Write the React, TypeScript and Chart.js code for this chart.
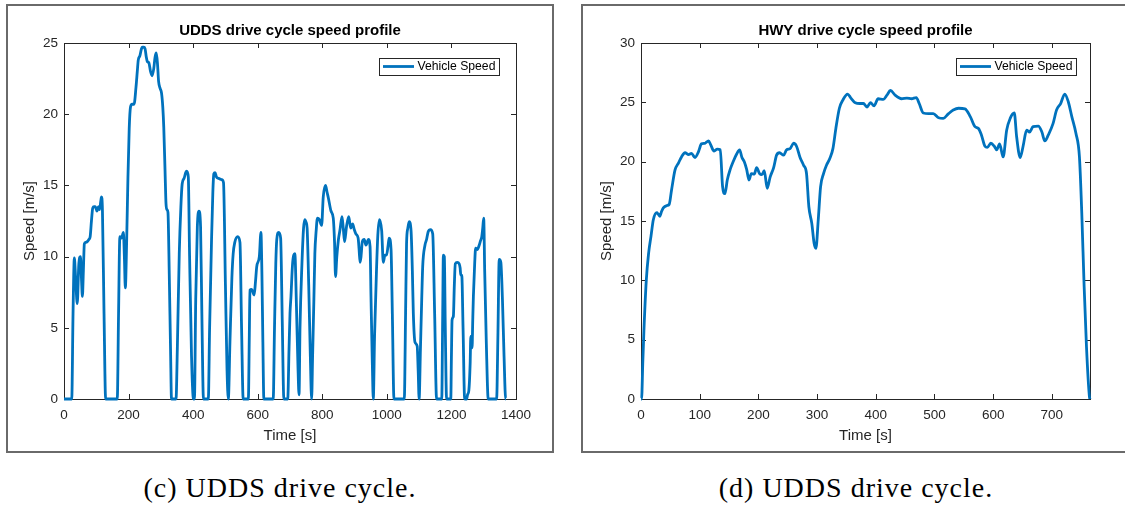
import React, { useEffect, useRef } from "react";
import { Chart, registerables } from "chart.js";

Chart.register(...registerables);

// ---------- Data ----------
const uddsTime = [
  0, 20, 24, 28, 32, 36, 41, 46, 51, 54, 57, 60, 63, 67, 72, 77, 81, 85, 89, 93, 97, 102, 107, 110, 114, 116, 119, 124, 129,
  165, 169, 173, 178, 184, 187, 190, 194, 198, 202, 206, 211, 217, 223, 227, 230, 235, 240, 243, 247, 251, 255, 258, 263, 268,
  273, 278, 282, 286, 290, 293, 298, 302, 306, 309, 313, 316, 319, 322, 326, 330, 333,
  347, 351, 357, 362, 366, 372, 377, 380, 385, 389, 395, 401,
  404, 408, 413, 418, 423, 427, 432,
  447, 451, 457, 461, 464, 468, 472, 478, 488, 494, 500, 505, 509,
  514, 520, 524, 529, 538, 545, 550, 555,
  571, 574, 576, 581, 589, 593, 597, 605, 610, 613, 616, 619,
  648, 652, 656, 659, 665, 671, 676, 681,
  693, 697, 700, 703, 708, 715, 720, 725, 728, 731, 737, 742, 746, 750, 753, 758, 763, 767,
  770, 774, 777, 781, 785, 791, 798, 803, 810, 815, 819, 827, 834, 838, 841, 845, 850, 855, 861, 865, 869, 875, 882, 888,
  894, 899, 904, 911, 914, 917, 920, 924, 930, 935, 943, 948, 951, 955, 958,
  962, 968, 972, 977, 984, 989, 994, 999, 1004, 1007, 1013, 1017, 1022,
  1054, 1058, 1061, 1065, 1069, 1075, 1079, 1082, 1087, 1094, 1097, 1100,
  1104, 1108, 1111, 1118, 1123, 1128, 1135, 1142, 1148, 1154,
  1170, 1173, 1175, 1178, 1181, 1185,
  1198, 1200, 1202, 1206, 1209, 1212, 1218, 1224, 1227, 1229, 1232, 1236, 1241,
  1247, 1250, 1254, 1258, 1260, 1262, 1264, 1266, 1268, 1272, 1275, 1280, 1286, 1290, 1294, 1297, 1300, 1303, 1308, 1314,
  1340, 1344, 1348, 1353, 1358, 1363, 1368, 1369,
];
const uddsSpeed = [
  0, 0, 0, 6, 9.9, 8.5, 6.7, 9.5, 10.0, 8.5, 7.2, 9, 10.9, 11.0, 11.05, 11.2, 11.4, 12.5, 13.4, 13.5, 13.5, 13.2, 13.5, 13.3, 13.9, 14.2, 13.3, 6, 0,
  0, 6, 11.4, 11.3, 11.7, 10.0, 7.8, 11, 15.5, 19.0, 20.5, 20.7, 20.7, 21.9, 23.0, 23.8, 24.1, 24.6, 24.7, 24.7, 24.6, 24.0, 23.7, 23.6, 23.0,
  22.7, 23.2, 24.0, 24.3, 23.4, 22.3, 21.8, 21.5, 20.5, 19.1, 16.0, 13.7, 13.3, 13.1, 8.8, 3.5, 0,
  0, 3.5, 10.2, 13.5, 15.1, 15.5, 15.9, 16.0, 15.6, 10, 3, 0,
  0, 7, 12.1, 13.2, 12.1, 6, 0,
  0, 5, 11.2, 14.5, 15.8, 15.9, 15.6, 15.5, 15.4, 15.2, 8, 2, 0,
  4, 8.5, 10.2, 11.0, 11.4, 11.0, 5, 0,
  0, 4.5, 7.65, 7.7, 7.3, 8.2, 9.3, 10.0, 11.7, 8.8, 4, 0,
  0, 5, 9.5, 11.2, 11.7, 11.3, 5.5, 0,
  0, 3.5, 6, 7.2, 9.5, 10.2, 6.5, 2, 0.3, 5, 9.5, 12.0, 12.6, 12.4, 12.0, 8, 3, 0,
  3, 7, 10.2, 11.8, 12.7, 12.6, 12.2, 14.2, 15.0, 14.5, 14.1, 13.2, 12.7, 11, 8.6, 10, 11.2, 11.9, 12.8, 12, 11.05, 12.1, 12.8, 12.0,
  12.3, 11.9, 11.6, 11.3, 10.5, 9.6, 10, 11.05, 11.2, 10.8, 11.2, 10.7, 7, 2.5, 0,
  4.5, 9.1, 11.5, 12.6, 11.8, 9.6, 10.1, 10.1, 10.8, 11.3, 10.5, 6, 0,
  0, 6, 10.9, 12.0, 12.45, 11.8, 9, 6.0, 4.0, 3.7, 2, 0,
  3.5, 7, 9.3, 10.8, 11.2, 11.75, 11.9, 11.6, 6, 0,
  0, 6, 10.1, 10.0, 5, 0,
  0, 3, 5.55, 5.8, 8, 9.5, 9.6, 9.5, 9.2, 8.7, 8.7, 5, 0,
  0, 0.3, 0.6, 2.5, 4.4, 3.6, 3.6, 5.5, 7.2, 9.5, 10.6, 10.5, 10.8, 11.1, 11.4, 12, 12.7, 9, 4, 0,
  0, 4.5, 9.8, 9.6, 7, 3, 0, 0,
];

const hwyTime = [
  0, 1, 3, 5, 9, 13, 17, 21, 27, 29, 32, 35, 38, 44, 48, 52, 58, 64, 69, 75, 81, 86, 92, 98, 103, 109, 115, 119, 124, 130,
  135, 139, 143, 147, 152, 157, 163, 168, 172, 176, 180, 184, 188, 193, 197, 202, 206, 210, 215, 220, 226, 231, 236, 243,
  248, 254, 260, 265, 271, 277, 282, 286, 291, 295, 298, 302, 306, 311, 316, 322, 327, 332, 338, 344, 352, 357, 365, 373,
  379, 385, 391, 397, 404, 413, 419, 425, 433, 444, 453, 461, 469, 474, 481, 490, 498, 507, 515, 524, 532, 541, 552, 561,
  569, 575, 580, 586, 590, 596, 602, 606, 611, 617, 623, 629, 636, 640, 646, 651, 657, 662, 668, 677, 683, 688, 694, 702,
  708, 715, 722, 728, 734, 741, 747, 751, 755, 759, 764, 765,
];
const hwySpeed = [
  0, 0, 3, 5.8, 10.0, 12.3, 13.7, 15.1, 15.7, 15.6, 15.4, 15.8, 16.1, 16.3, 16.4, 17.6, 19.3, 19.9, 20.4, 20.75, 20.6, 20.7, 20.35, 20.85, 21.5, 21.55, 21.75, 21.4, 20.9, 21.05,
  21.0, 17.9, 17.3, 18.45, 19.35, 20.0, 20.65, 21.0, 20.35, 20.0, 19.35, 18.45, 19.0, 18.95, 19.5, 19.0, 18.9, 19.25, 17.75, 18.7, 19.5, 20.55, 20.75, 20.55,
  21.0, 21.1, 21.55, 21.3, 20.35, 19.7, 19.0, 16.2, 14.8, 13.1, 12.7, 15.1, 17.9, 19.0, 19.7, 20.3, 21.1, 22.8, 24.5, 25.2, 25.7, 25.4, 24.97, 24.9,
  24.9, 24.6, 24.97, 24.7, 25.3, 25.25, 25.6, 26.0, 25.6, 25.3, 25.35, 25.3, 25.4, 24.9, 24.1, 24.05, 24.05, 23.7, 23.65, 24.05, 24.35, 24.5, 24.45, 23.8,
  22.95, 22.8, 22.25, 21.3, 21.2, 21.55, 21.3, 21.0, 21.5, 20.4, 22.65, 23.65, 24.1, 22.1, 20.35, 21.3, 22.65, 22.5, 22.95, 23.0, 22.5, 21.75, 22.25, 23.2,
  24.35, 24.9, 25.7, 25.05, 23.8, 22.4, 20.4, 15.65, 9.5, 4.4, 0.2, 0,
];

const uddsXTicks = [0, 200, 400, 600, 800, 1000, 1200, 1400];
const uddsYTicks = [0, 5, 10, 15, 20, 25];
const hwyXTicks = [0, 100, 200, 300, 400, 500, 600, 700];
const hwyYTicks = [0, 5, 10, 15, 20, 25, 30];

const BLUE = "#0072BD";
const TXT = "#262626";
const SANS = "'Liberation Sans', Arial, Helvetica, sans-serif";

type PanelProps = {
  time: number[];
  speed: number[];
  xMax: number;
  yMax: number;
  xTicks: number[];
  yTicks: number[];
  title: string;
  left: number;
  top: number;
  width: number;
  height: number;
  yAxisWidth: number;
  padRight: number;
  legendGap: number;
};

function SpeedPanel(p: PanelProps) {
  const ref = useRef<HTMLCanvasElement | null>(null);
  useEffect(() => {
    if (!ref.current) return;
    const frame = {
      id: "matlabFrame",
      beforeDatasetsDraw(chart: any) {
        const { ctx, chartArea: a, scales } = chart;
        ctx.save();
        ctx.strokeStyle = TXT;
        ctx.lineWidth = 1;
        ctx.strokeRect(Math.round(a.left) + 0.5, Math.round(a.top) + 0.5, Math.round(a.right - a.left), Math.round(a.bottom - a.top));
        const tl = 5;
        ctx.beginPath();
        for (const v of p.xTicks) {
          const x = Math.round(scales.x.getPixelForValue(v)) + 0.5;
          ctx.moveTo(x, a.bottom);
          ctx.lineTo(x, a.bottom - tl);
          ctx.moveTo(x, a.top);
          ctx.lineTo(x, a.top + tl);
        }
        for (const v of p.yTicks) {
          const y = Math.round(scales.y.getPixelForValue(v)) + 0.5;
          ctx.moveTo(a.left, y);
          ctx.lineTo(a.left + tl, y);
          ctx.moveTo(a.right, y);
          ctx.lineTo(a.right - tl, y);
        }
        ctx.stroke();
        ctx.restore();
      },
      afterDraw(chart: any) {
        const { ctx, chartArea: a } = chart;
        ctx.save();
        ctx.fillStyle = "#000";
        ctx.textAlign = "center";
        ctx.textBaseline = "middle";
        ctx.font = `bold 15px ${SANS}`;
        ctx.fillText(p.title, (a.left + a.right) / 2, a.top - 12);
        ctx.fillStyle = TXT;
        ctx.font = `15px ${SANS}`;
        ctx.fillText("Time [s]", (a.left + a.right) / 2, a.bottom + 37);
        ctx.save();
        ctx.translate(a.left - 34, (a.top + a.bottom) / 2);
        ctx.rotate(-Math.PI / 2);
        ctx.fillText("Speed [m/s]", 0, 0);
        ctx.restore();
        // legend
        const w = 120;
        const h = 17;
        const lx = Math.round(a.right - p.legendGap - w);
        const ly = Math.round(a.top + 15);
        ctx.fillStyle = "#fff";
        ctx.fillRect(lx, ly, w, h);
        ctx.strokeStyle = TXT;
        ctx.lineWidth = 1;
        ctx.strokeRect(lx + 0.5, ly + 0.5, w, h);
        ctx.strokeStyle = BLUE;
        ctx.lineWidth = 2.8;
        ctx.beginPath();
        ctx.moveTo(lx + 4, ly + 8.5);
        ctx.lineTo(lx + 35, ly + 8.5);
        ctx.stroke();
        ctx.fillStyle = "#000";
        ctx.textAlign = "left";
        ctx.font = `12.2px ${SANS}`;
        ctx.fillText("Vehicle Speed", lx + 38.5, ly + 9);
        ctx.restore();
      },
    };
    const chart = new Chart(ref.current, {
      type: "line",
      data: {
        datasets: [
          {
            label: "Vehicle Speed",
            data: p.time.map((t, i) => ({ x: t, y: p.speed[i] })),
            borderColor: BLUE,
            backgroundColor: BLUE,
            borderWidth: 2.8,
            pointRadius: 0,
            fill: false,
            cubicInterpolationMode: "monotone",
            clip: 4,
          } as any,
        ],
      },
      options: {
        responsive: false,
        animation: false,
        devicePixelRatio: 1,
        layout: { padding: { top: 37, right: p.padRight, left: 0, bottom: 0 } },
        plugins: {
          legend: { display: false },
          title: { display: false },
          tooltip: { enabled: false },
        },
        scales: {
          x: {
            type: "linear",
            min: 0,
            max: p.xMax,
            afterBuildTicks: (s: any) => {
              s.ticks = p.xTicks.map((v) => ({ value: v }));
            },
            afterFit: (s: any) => {
              s.height = 52;
            },
            grid: { display: false, drawTicks: false },
            border: { display: false },
            ticks: {
              padding: 8,
              color: TXT,
              font: { family: SANS, size: 13.5 },
              maxRotation: 0,
              autoSkip: false,
              callback: (v: any) => String(v),
            },
          },
          y: {
            type: "linear",
            min: 0,
            max: p.yMax,
            afterBuildTicks: (s: any) => {
              s.ticks = p.yTicks.map((v) => ({ value: v }));
            },
            afterFit: (s: any) => {
              s.width = p.yAxisWidth;
            },
            grid: { display: false, drawTicks: false },
            border: { display: false },
            ticks: {
              padding: 6,
              color: TXT,
              font: { family: SANS, size: 13.5 },
              autoSkip: false,
              callback: (v: any) => String(v),
            },
          },
        },
      },
      plugins: [frame as any],
    });
    return () => chart.destroy();
  }, []);
  return (
    <canvas
      ref={ref}
      width={p.width}
      height={p.height}
      style={{ position: "absolute", left: p.left, top: p.top, width: p.width, height: p.height }}
    />
  );
}

export default function App() {
  const captionStyle: React.CSSProperties = {
    position: "absolute",
    top: 472,
    width: 600,
    textAlign: "center",
    fontFamily: "'Liberation Serif', 'Times New Roman', serif",
    fontSize: 28,
    lineHeight: "32px",
    letterSpacing: "1px",
    color: "#000",
    whiteSpace: "nowrap",
  };
  return (
    <div style={{ position: "absolute", left: 0, top: 0, width: 1125, height: 505, overflow: "hidden", background: "#fff" }}>
      <div style={{ position: "absolute", left: 6, top: 4, width: 548, height: 449, border: "2px solid #6a6a6a", boxSizing: "border-box" }} />
      <div style={{ position: "absolute", left: 581, top: 4, width: 580, height: 449, border: "2px solid #6a6a6a", boxSizing: "border-box" }} />
      <SpeedPanel
        time={uddsTime}
        speed={uddsSpeed}
        xMax={1400}
        yMax={25}
        xTicks={uddsXTicks}
        yTicks={uddsYTicks}
        title="UDDS drive cycle speed profile"
        left={8}
        top={6}
        width={544}
        height={445}
        yAxisWidth={56}
        padRight={36}
        legendGap={17}
      />
      <SpeedPanel
        time={hwyTime}
        speed={hwySpeed}
        xMax={765}
        yMax={30}
        xTicks={hwyXTicks}
        yTicks={hwyYTicks}
        title="HWY drive cycle speed profile"
        left={583}
        top={6}
        width={542}
        height={445}
        yAxisWidth={58}
        padRight={35}
        legendGap={14}
      />
      <div style={{ ...captionStyle, left: 280 - 300 }}>(c) UDDS drive cycle.</div>
      <div style={{ ...captionStyle, left: 856 - 300 }}>(d) UDDS drive cycle.</div>
    </div>
  );
}
